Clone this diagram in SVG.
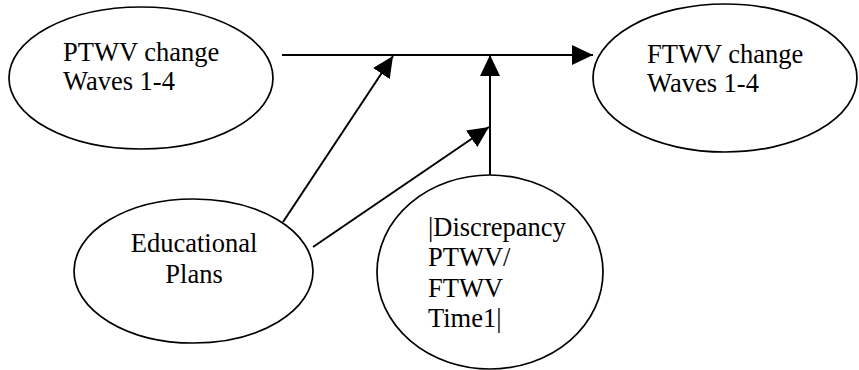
<svg xmlns="http://www.w3.org/2000/svg" width="859" height="370" viewBox="0 0 859 370">
  <style>
    .node ellipse { fill: #ffffff; stroke: #000000; stroke-width: 1.7; }
    .node text { font-family: "Liberation Serif", "Times New Roman", serif; font-size: 26.5px; fill: #000000; }
    .edges line { stroke: #000000; stroke-width: 2; marker-end: url(#arrow); }
  </style>
  <defs>
    <marker id="arrow" markerUnits="userSpaceOnUse" markerWidth="21" markerHeight="20" refX="21" refY="10" orient="auto">
      <path d="M0,0 L21,10 L0,20 z" fill="#000000"/>
    </marker>
  </defs>
  <rect width="859" height="370" fill="#ffffff"/>

  <g id="ptwv-change" class="node">
    <ellipse cx="141" cy="78" rx="132" ry="71"/>
    <text x="63" y="61">PTWV change</text>
    <text x="63" y="90">Waves 1-4</text>
  </g>

  <g id="ftwv-change" class="node">
    <ellipse cx="725" cy="78" rx="132" ry="74"/>
    <text x="647" y="63">FTWV change</text>
    <text x="647" y="92">Waves 1-4</text>
  </g>

  <g id="educational-plans" class="node">
    <ellipse cx="193.5" cy="271" rx="119.5" ry="72"/>
    <text x="194" y="252" text-anchor="middle">Educational</text>
    <text x="194" y="283" text-anchor="middle">Plans</text>
  </g>

  <g id="discrepancy" class="node">
    <ellipse cx="490" cy="272" rx="113" ry="97"/>
    <text x="428" y="236">|Discrepancy</text>
    <text x="428" y="266">PTWV/</text>
    <text x="428" y="297">FTWV</text>
    <text x="428" y="327">Time1|</text>
  </g>

  <g id="connectors" class="edges">
    <line x1="282" y1="55" x2="593" y2="55"/>
    <line x1="283" y1="222" x2="393" y2="56"/>
    <line x1="490" y1="175" x2="490" y2="55"/>
    <line x1="313" y1="247" x2="489" y2="127"/>
  </g>
</svg>
